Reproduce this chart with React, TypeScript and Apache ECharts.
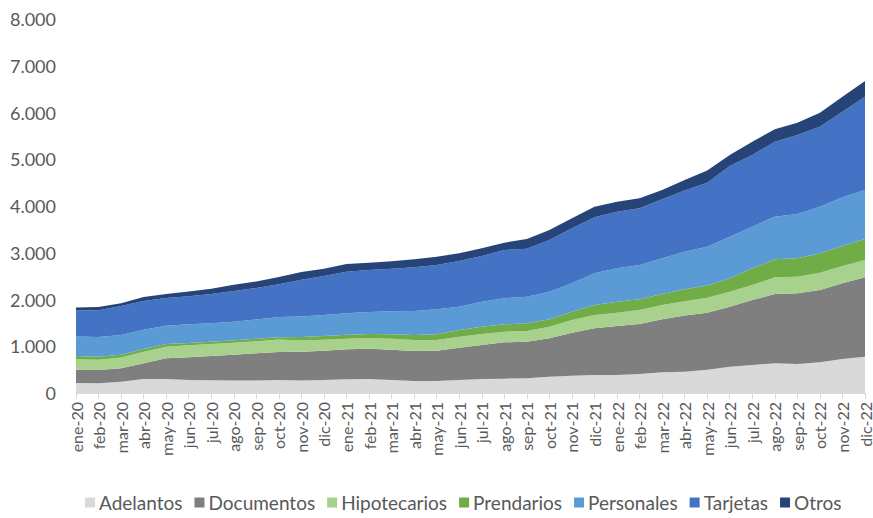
import React, { useEffect, useRef } from "react";
import * as echarts from "echarts";

const months = [
  "ene-20","feb-20","mar-20","abr-20","may-20","jun-20","jul-20","ago-20","sep-20","oct-20","nov-20","dic-20",
  "ene-21","feb-21","mar-21","abr-21","may-21","jun-21","jul-21","ago-21","sep-21","oct-21","nov-21","dic-21",
  "ene-22","feb-22","mar-22","abr-22","may-22","jun-22","jul-22","ago-22","sep-22","oct-22","nov-22","dic-22",
];

const adelantos = [215,210,240,300,300,280,272,265,270,278,265,278,292,300,278,258,258,278,300,307,314,349,371,385,385,406,442,456,500,563,599,635,620,656,727,777];
const documentos = [280,282,288,335,442,483,519,555,579,599,619,627,642,648,649,640,647,691,727,777,784,821,919,998,1048,1070,1134,1204,1215,1283,1390,1483,1513,1547,1619,1697];
const hipotecarios = [228,220,232,250,248,258,257,256,260,265,240,236,228,228,235,236,229,236,235,228,228,249,271,285,285,299,306,305,320,321,321,356,355,371,371,371];
const prendarios = [70,65,60,56,58,49,49,51,50,50,72,78,86,86,93,107,121,143,157,157,164,157,179,214,235,229,236,255,265,286,357,385,393,414,427,449];
const personales = [415,420,420,414,392,400,393,398,414,434,442,449,457,471,492,513,535,499,534,556,570,591,606,678,714,734,763,800,830,891,891,912,948,997,1041,1048];
const tarjetas = [556,571,621,612,592,599,628,657,674,698,784,835,890,898,912,934,948,977,977,1034,1027,1106,1177,1198,1211,1213,1262,1310,1370,1512,1533,1605,1690,1711,1832,1996];
const otros = [64,69,58,86,86,100,114,135,139,158,164,156,164,157,158,171,178,164,165,156,207,214,214,227,214,214,199,226,260,235,285,264,263,300,321,336];

const seriesNames = ["Adelantos","Documentos","Hipotecarios","Prendarios","Personales","Tarjetas","Otros"];
const seriesData = [adelantos, documentos, hipotecarios, prendarios, personales, tarjetas, otros];
const colors = ["#d9d9d9","#7f7f7f","#a9d18e","#70ad47","#5b9bd5","#4472c4","#264478"];

const FONT = "Lato, 'Noto Sans', sans-serif";

export default function App() {
  const ref = useRef<HTMLDivElement>(null);
  useEffect(() => {
    if (!ref.current) return;
    const chart = echarts.init(ref.current, null, { renderer: "svg" });
    chart.setOption({
      animation: false,
      backgroundColor: "#ffffff",
      color: colors,
      grid: { left: 76, right: 8, top: 19, bottom: 125, containLabel: false },
      legend: {
        bottom: 1,
        left: 80,
        icon: "rect",
        itemWidth: 10,
        itemHeight: 10,
        itemGap: 12,
        textStyle: { fontFamily: FONT, fontSize: 19, color: "#595959", padding: [0, 0, 0, -1] },
        data: seriesNames,
      },
      xAxis: {
        type: "category",
        data: months,
        boundaryGap: false,
        axisLine: { lineStyle: { color: "#d9d9d9", width: 1 } },
        axisTick: { show: true, alignWithLabel: true, length: 6, lineStyle: { color: "#d9d9d9" } },
        axisLabel: {
          rotate: 90,
          interval: 0,
          margin: 9,
          fontFamily: FONT,
          fontSize: 16,
          lineHeight: 16,
          color: "#595959",
        },
        splitLine: { show: false },
      },
      yAxis: {
        type: "value",
        min: 0,
        max: 8000,
        interval: 1000,
        axisLine: { show: false },
        axisTick: { show: false },
        splitLine: { show: false },
        axisLabel: {
          margin: 20,
          fontFamily: FONT,
          fontSize: 18,
          color: "#595959",
          formatter: (v: number) => v.toLocaleString("de-DE"),
        },
      },
      series: seriesNames.map((name, i) => ({
        name,
        type: "line",
        stack: "total",
        data: seriesData[i],
        symbol: "none",
        lineStyle: { width: 0 },
        areaStyle: { color: colors[i], opacity: 1 },
        itemStyle: { color: colors[i] },
      })),
    });
    return () => chart.dispose();
  }, []);
  return <div ref={ref} style={{ width: 873, height: 518, position: "absolute", left: 0, top: 0 }} />;
}
